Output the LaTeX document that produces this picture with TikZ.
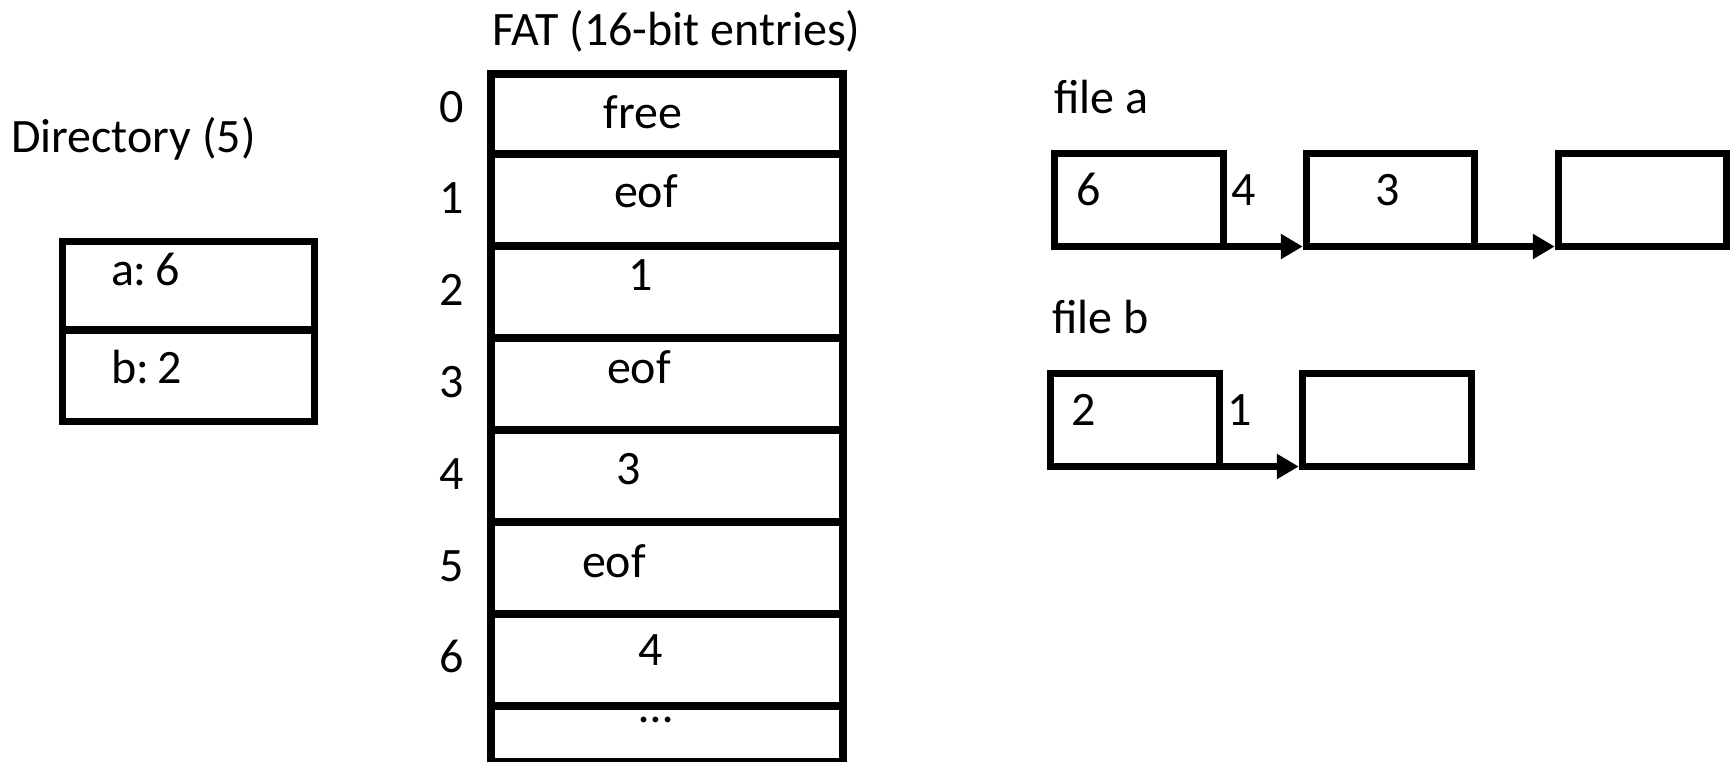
\documentclass[tikz,border=0pt]{standalone}
\usepackage{fontspec}
\setmainfont{Carlito}
\usetikzlibrary{arrows.meta}
\begin{document}
\begin{tikzpicture}[x=1pt,y=-1pt,
  cell/.style={draw=black, line width=7.5pt, rectangle, inner sep=0pt, outer sep=0pt, anchor=north west},
  txt/.style={inner sep=0pt, outer sep=0pt, font=\fontsize{48}{57}\selectfont},
  link/.style={-{Triangle[length=22pt,width=24pt]}, line width=7pt, shorten >=3.75pt}]
\useasboundingbox (0,0) rectangle (1736,761);

% Directory
\node[txt, anchor=base west] (dirtitle) at (11,152) {Directory (5)};
\node[cell, minimum width=252pt, minimum height=88.5pt] (dirA) at (62.5,241.5) {};
\node[cell, minimum width=252pt, minimum height=91.5pt] (dirB) at (62.5,330) {};
\node[txt, anchor=base west] (dirAt) at (111,285) {a:\kern-2pt\ 6};
\node[txt, anchor=base west] (dirBt) at (111,383) {b:\kern-2pt\ 2};

% FAT table
\node[txt, anchor=base west] (fattitle) at (492,45) {FAT (16-bit entries)};
\node[cell, minimum width=352pt, minimum height=80pt] (fat0) at (491,74) {};
\foreach \i in {1,...,6}{
  \node[cell, minimum width=352pt, minimum height=92pt] (fat\i) at (491,{154+92*(\i-1)}) {};
}
\node[cell, minimum width=352pt, minimum height=56pt] (fat7) at (491,706) {};

% row numbers
\foreach \i in {0,...,6}{
  \node[txt, anchor=base] (num\i) at (452,{122+91.8*\i}) {\i};
}

% entries
\node[txt, anchor=base] (ent0) at (643,128) {free};
\node[txt, anchor=base] (ent1) at (646,207) {eof};
\node[txt, anchor=base] (ent2) at (641,290) {1};
\node[txt, anchor=base] (ent3) at (639,383) {eof};
\node[txt, anchor=base] (ent4) at (629,484) {3};
\node[txt, anchor=base] (ent5) at (614,577) {eof};
\node[txt, anchor=base] (ent6) at (651,665) {4};
\node[txt, anchor=base] (ent7) at (656,722) {…};

% file a
\node[txt, anchor=base west] (filea) at (1054,113) {file a};
\node[cell, minimum width=169pt, minimum height=93pt] (a1) at (1054.5,153.5) {};
\node[cell, minimum width=168pt, minimum height=93pt] (a2) at (1306.5,153.5) {};
\node[cell, minimum width=168pt, minimum height=93pt] (a3) at (1558.5,153.5) {};
\node[txt, anchor=base] (a1t) at (1088.5,205) {6};
\node[txt, anchor=base] (a2t) at (1388,205) {3};
\node[txt, anchor=base] (a1n) at (1243.5,205) {4};
\draw[link] (a1.south east) -- (a2.south west);
\draw[link] (a2.south east) -- (a3.south west);

% file b
\node[txt, anchor=base west] (fileb) at (1052,333) {file b};
\node[cell, minimum width=169pt, minimum height=93pt] (b1) at (1050.5,373.5) {};
\node[cell, minimum width=169pt, minimum height=93pt] (b2) at (1302.5,373.5) {};
\node[txt, anchor=base] (b1t) at (1084,425) {2};
\node[txt, anchor=base] (b1n) at (1240,425) {1};
\draw[link] (b1.south east) -- (b2.south west);
\end{tikzpicture}
\end{document}
